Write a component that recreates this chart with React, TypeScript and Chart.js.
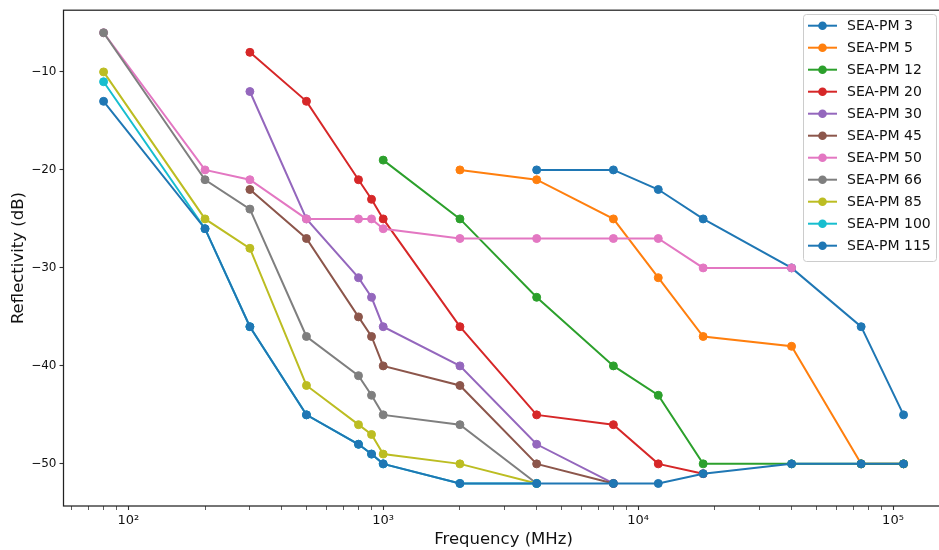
import React, { useEffect, useRef } from "react";
import { Chart, registerables } from "chart.js";

Chart.register(...registerables);

// ---- data ----
const seriesNames = [
  "SEA-PM 3", "SEA-PM 5", "SEA-PM 12", "SEA-PM 20", "SEA-PM 30", "SEA-PM 45",
  "SEA-PM 50", "SEA-PM 66", "SEA-PM 85", "SEA-PM 100", "SEA-PM 115",
];
const seriesColors = [
  "#1f77b4", "#ff7f0e", "#2ca02c", "#d62728", "#9467bd", "#8c564b",
  "#e377c2", "#7f7f7f", "#bcbd22", "#17becf", "#1f77b4",
];

const pm3Freq = [4000, 8000, 12000, 18000, 40000, 75000, 110000];
const pm3Refl = [-20, -20, -22, -25, -30, -36, -45];

const pm5Freq = [2000, 4000, 8000, 12000, 18000, 40000, 75000, 110000];
const pm5Refl = [-20, -21, -25, -31, -37, -38, -50, -50];

const pm12Freq = [1000, 2000, 4000, 8000, 12000, 18000, 40000, 75000, 110000];
const pm12Refl = [-19, -25, -33, -40, -43, -50, -50, -50, -50];

const pm20Freq = [300, 500, 800, 900, 1000, 2000, 4000, 8000, 12000, 18000];
const pm20Refl = [-8, -13, -21, -23, -25, -36, -45, -46, -50, -51];

const pm30Freq = [300, 500, 800, 900, 1000, 2000, 4000, 8000];
const pm30Refl = [-12, -25, -31, -33, -36, -40, -48, -52];

const pm45Freq = [300, 500, 800, 900, 1000, 2000, 4000, 8000];
const pm45Refl = [-22, -27, -35, -37, -40, -42, -50, -52];

const pm50Freq = [80, 200, 300, 500, 800, 900, 1000, 2000, 4000, 8000, 12000, 18000, 40000];
const pm50Refl = [-6, -20, -21, -25, -25, -25, -26, -27, -27, -27, -27, -30, -30];

const pm66Freq = [80, 200, 300, 500, 800, 900, 1000, 2000, 4000];
const pm66Refl = [-6, -21, -24, -37, -41, -43, -45, -46, -52];

const pm85Freq = [80, 200, 300, 500, 800, 900, 1000, 2000, 4000];
const pm85Refl = [-10, -25, -28, -42, -46, -47, -49, -50, -52];

const pm100Freq = [80, 200, 300, 500, 800, 900, 1000, 2000, 4000];
const pm100Refl = [-11, -26, -36, -45, -48, -49, -50, -52, -52];

const pm115Freq = [80, 200, 300, 500, 800, 900, 1000, 2000, 4000, 8000, 12000, 18000, 40000, 75000, 110000];
const pm115Refl = [-13, -26, -36, -45, -48, -49, -50, -52, -52, -52, -52, -51, -50, -50, -50];

const seriesFreqs = [pm3Freq, pm5Freq, pm12Freq, pm20Freq, pm30Freq, pm45Freq, pm50Freq, pm66Freq, pm85Freq, pm100Freq, pm115Freq];
const seriesRefls = [pm3Refl, pm5Refl, pm12Refl, pm20Refl, pm30Refl, pm45Refl, pm50Refl, pm66Refl, pm85Refl, pm100Refl, pm115Refl];

const yTickValues = [-50, -40, -30, -20, -10];
const xMajorTicks = [100, 1000, 10000, 100000];
const xMajorLabels = ["10\u00b2", "10\u00b3", "10\u2074", "10\u2075"];
const xMinorTicks = [
  60, 70, 80, 90,
  200, 300, 400, 500, 600, 700, 800, 900,
  2000, 3000, 4000, 5000, 6000, 7000, 8000, 9000,
  20000, 30000, 40000, 50000, 60000, 70000, 80000, 90000,
];

const xMin = 55.7;
const xMax = 157800;
const yMin = -54.3;
const yMax = -3.7;

const FONT = "'DejaVu Sans', sans-serif";

const framePlugin = {
  id: "frame",
  afterDatasetsDraw(chart: any) {
    const { ctx, chartArea } = chart;
    ctx.save();
    ctx.strokeStyle = "#222";
    ctx.lineWidth = 1.25;
    ctx.strokeRect(chartArea.left, chartArea.top, chartArea.right - chartArea.left, chartArea.bottom - chartArea.top);
    ctx.restore();
  },
};

const legendPlugin = {
  id: "mplLegend",
  afterDraw(chart: any) {
    const { ctx } = chart;
    const bx = 803.5, by = 14.5, bw = 133, bh = 247;
    ctx.save();
    ctx.beginPath();
    if (ctx.roundRect) ctx.roundRect(bx, by, bw, bh, 3);
    else ctx.rect(bx, by, bw, bh);
    ctx.fillStyle = "rgba(255,255,255,0.85)";
    ctx.fill();
    ctx.strokeStyle = "#cccccc";
    ctx.lineWidth = 1;
    ctx.stroke();
    ctx.font = `14px ${FONT}`;
    ctx.textBaseline = "middle";
    ctx.textAlign = "left";
    chart.data.datasets.forEach((ds: any, i: number) => {
      const y = 25.7 + i * 22;
      ctx.strokeStyle = ds.borderColor;
      ctx.lineWidth = 2;
      ctx.beginPath();
      ctx.moveTo(808, y);
      ctx.lineTo(837, y);
      ctx.stroke();
      ctx.fillStyle = ds.borderColor;
      ctx.beginPath();
      ctx.arc(822.5, y, 4.3, 0, Math.PI * 2);
      ctx.fill();
      ctx.fillStyle = "#111";
      ctx.fillText(ds.label, 847, y + 0.5);
    });
    ctx.restore();
  },
};

export default function App() {
  const canvasRef = useRef<HTMLCanvasElement | null>(null);

  useEffect(() => {
    if (!canvasRef.current) return;
    const n = seriesNames.length;
    const datasets = seriesNames.map((name, i) => ({
      label: name,
      data: seriesFreqs[i].map((f, j) => ({ x: f, y: seriesRefls[i][j] })),
      borderColor: seriesColors[i],
      backgroundColor: seriesColors[i],
      pointBackgroundColor: seriesColors[i],
      pointBorderColor: seriesColors[i],
      borderWidth: 2,
      pointRadius: 4,
      pointBorderWidth: 1,
      tension: 0,
      order: n - 1 - i,
    }));

    const chart = new Chart(canvasRef.current, {
      type: "line",
      data: { datasets },
      plugins: [framePlugin, legendPlugin],
      options: {
        animation: false,
        responsive: false,
        devicePixelRatio: 1,
        layout: { padding: { left: 0, top: 7, right: 6.5, bottom: 0 } },
        plugins: {
          legend: { display: false },
          tooltip: { enabled: false },
        },
        scales: {
          x: {
            type: "logarithmic",
            min: xMin,
            max: xMax,
            bounds: "data",
            afterBuildTicks: (scale: any) => {
              const all = [...xMinorTicks, ...xMajorTicks].sort((a, b) => a - b);
              scale.ticks = all.map((v) => ({ value: v, major: xMajorTicks.includes(v) }));
            },
            afterFit: (scale: any) => {
              scale.height = 44;
            },
            border: { display: false },
            grid: {
              drawOnChartArea: false,
              drawTicks: true,
              tickLength: 4,
              tickColor: "#333",
              tickWidth: (c: any) => (xMajorTicks.includes(c.tick?.value) ? 1.1 : 0.8),
            },
            ticks: {
              autoSkip: false,
              maxRotation: 0,
              minRotation: 0,
              padding: 3,
              color: "#111",
              font: { family: FONT, size: 13 },
              callback: (value: any) => {
                const idx = xMajorTicks.indexOf(Number(value));
                return idx >= 0 ? xMajorLabels[idx] : "";
              },
            },
            title: {
              display: true,
              text: "Frequency (MHz)",
              color: "#111",
              font: { family: FONT, size: 16.5 },
              padding: { top: 0, bottom: 0.5 },
            },
          },
          y: {
            type: "linear",
            min: yMin,
            max: yMax,
            afterBuildTicks: (scale: any) => {
              scale.ticks = yTickValues.map((v) => ({ value: v }));
            },
            afterFit: (scale: any) => {
              scale.width = 63.5;
            },
            border: { display: false },
            grid: {
              drawOnChartArea: false,
              drawTicks: true,
              tickLength: 4,
              tickColor: "#333",
              tickWidth: 1.1,
            },
            ticks: {
              padding: 3,
              color: "#111",
              font: { family: FONT, size: 12 },
              callback: (value: any) => {
                const v = Number(value);
                return v < 0 ? "\u2212" + Math.abs(v) : String(v);
              },
            },
            title: {
              display: true,
              text: "Reflectivity (dB)",
              color: "#111",
              font: { family: FONT, size: 16.5 },
              padding: { top: 8.5, bottom: 0 },
            },
          },
        },
      } as any,
    });
    return () => chart.destroy();
  }, []);

  return (
    <div
      style={{
        position: "fixed",
        left: 0,
        top: 0,
        width: 939,
        height: 550,
        overflow: "hidden",
        background: "#fff",
      }}
    >
      <canvas
        ref={canvasRef}
        width={950}
        height={550}
        style={{ display: "block", width: 950, height: 550 }}
      />
    </div>
  );
}
